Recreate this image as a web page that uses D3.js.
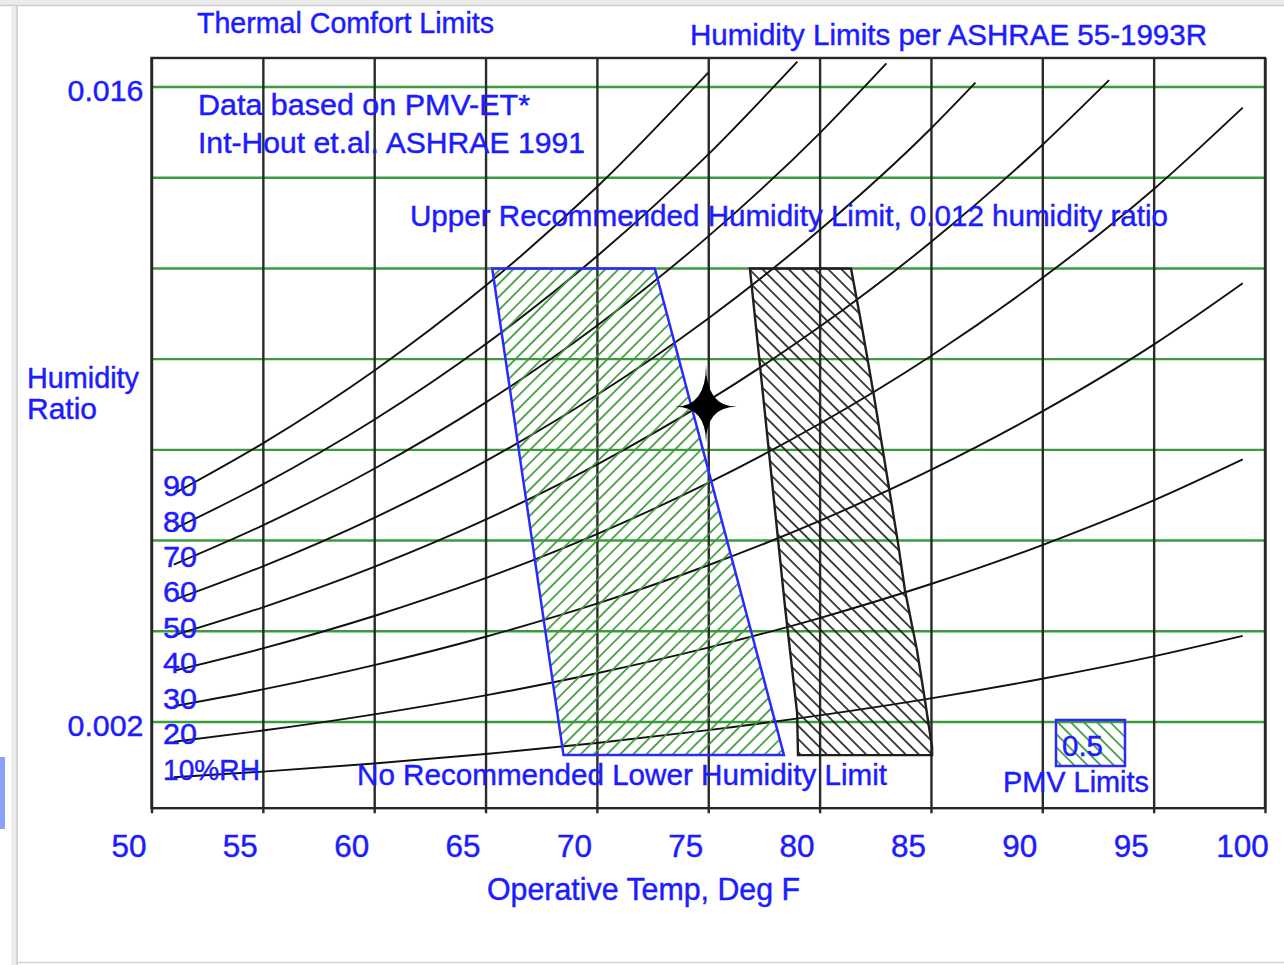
<!DOCTYPE html>
<html><head><meta charset="utf-8">
<script src="https://cdn.jsdelivr.net/npm/d3@7"></script>
<style>
html,body{margin:0;padding:0;background:#fff;}
svg{display:block;}
text{font-family:"Liberation Sans",Arial,sans-serif;fill:#1c1cff;stroke:#1c1cff;stroke-width:0.45px;}
</style></head><body>
<svg id="chart" width="1284" height="965"></svg>
<script>
// ---------- data ----------
const xTickValues = [50,55,60,65,70,75,80,85,90,95,100];
const yGridValues = [0.002,0.004,0.006,0.008,0.010,0.012,0.014,0.016];
const yLabelValues = [0.002,0.016];
const rhLabels = ["10%RH","20","30","40","50","60","70","80","90"];

const tFull = [51,55,60,65,70,75,80,85,90,95,99];
const wRH10 = [0.000782,0.000906,0.001085,0.001294,0.001537,0.001820,0.002147,0.002522,0.002953,0.003446,0.003898];
const wRH20 = [0.001565,0.001812,0.002169,0.002587,0.003074,0.003639,0.004292,0.005042,0.005902,0.006886,0.007790];
const wRH30 = [0.002347,0.002718,0.003253,0.003880,0.004609,0.005456,0.006434,0.007558,0.008847,0.010320,0.011673];
const wRH40 = [0.003129,0.003623,0.004337,0.005171,0.006143,0.007271,0.008575,0.010071,0.011787,0.013747,0.015546];
const tRH50 = [51,55,60,65,70,75,80,85,90,93];
const wRH50 = [0.003910,0.004528,0.005419,0.006462,0.007676,0.009085,0.010712,0.012581,0.014721,0.016150];
const tRH60 = [51,55,60,65,70,75,80,85,87];
const wRH60 = [0.004691,0.005432,0.006502,0.007752,0.009208,0.010897,0.012847,0.015086,0.016097];
const tRH70 = [51,55,60,65,70,75,80,83];
const wRH70 = [0.005472,0.006336,0.007583,0.009041,0.010738,0.012706,0.014979,0.016520];
const tRH80 = [51,55,60,65,70,75,79];
const wRH80 = [0.006253,0.007239,0.008664,0.010329,0.012267,0.014514,0.016560];
const tRH90 = [51,55,60,65,70,75];
const wRH90 = [0.007033,0.008143,0.009745,0.011616,0.013795,0.016319];

// PMV comfort zones (winter: green hatch, summer: black hatch)
const zoneWinterT = [65.3,72.6,78.4,68.5];
const zoneWinterW = [0.012,0.012,0.00127,0.00127];
const zoneSummerT = [76.87,81.41,81.90,82.44,83.11,83.52,83.83,84.37,84.73,85.05,85.05,79.03,78.99,78.45];
const zoneSummerW = [0.012,0.012,0.01071,0.00919,0.00718,0.00595,0.00491,0.00359,0.00248,0.00145,0.00127,0.00127,0.0022,0.00453];

const markerT = [74.9];
const markerW = [0.00895];
const plotExtentW = [0.0001,0.01664];

// ---------- setup ----------
const svg = d3.select("#chart");
const x = d3.scaleLinear().domain([50,100]).range([151.5,1265]);
const y = d3.scaleLinear().domain([0.002,0.016]).range([722,87]);
const plotTop = y(plotExtentW[1]), plotBottom = y(plotExtentW[0]);
const plotLeft = x(50), plotRight = x(100);

// window chrome
svg.append("rect").attr("x",0).attr("y",0).attr("width",1284).attr("height",965).attr("fill","#fff");
svg.append("rect").attr("x",0).attr("y",0).attr("width",1284).attr("height",6).attr("fill","#ececec");
svg.append("line").attr("x1",0).attr("x2",1284).attr("y1",5.5).attr("y2",5.5).attr("stroke","#cfcfcf").attr("stroke-width",1.5);
svg.append("rect").attr("x",11).attr("y",6).attr("width",7).attr("height",959).attr("fill","#ececec");
svg.append("line").attr("x1",17).attr("x2",17).attr("y1",6).attr("y2",965).attr("stroke","#cfcfcf").attr("stroke-width",1.5);
svg.append("line").attr("x1",17).attr("x2",1284).attr("y1",962.5).attr("y2",962.5).attr("stroke","#d4d4d4").attr("stroke-width",1.5);
svg.append("rect").attr("x",0).attr("y",757).attr("width",5).attr("height",72).attr("fill","#8aa2ff");

// defs: hatch patterns
const defs = svg.append("defs");
function hatch(id, color, angle, spacing, width){
  const p = defs.append("pattern").attr("id",id).attr("patternUnits","userSpaceOnUse")
    .attr("width",spacing).attr("height",spacing).attr("patternTransform",`rotate(${angle})`);
  p.append("line").attr("x1",spacing/2).attr("y1",-1).attr("x2",spacing/2).attr("y2",spacing+1)
    .attr("stroke",color).attr("stroke-width",width);
}
hatch("hatchGreen","#3a9a3a",45,9.3,1.7);
hatch("hatchBlack","#1a1a1a",-45,9.3,1.6);
hatch("hatchGreenBack","#3a9a3a",-45,9.3,1.7);

// green horizontal grid lines
svg.append("g").selectAll("line").data(yGridValues).join("line")
  .attr("x1",plotLeft).attr("x2",plotRight).attr("y1",d=>y(d)).attr("y2",d=>y(d))
  .attr("stroke","#3c9c3c").attr("stroke-width",2.4);

// bottom axis with vertical grid lines
const xAxis = svg.append("g").attr("transform",`translate(0,${plotBottom})`)
  .call(d3.axisBottom(x).tickValues(xTickValues).tickSize(5).tickSizeOuter(0).tickFormat(d3.format("d")));
xAxis.select(".domain").remove();
xAxis.selectAll(".tick line").attr("y1",plotTop-plotBottom).attr("y2",5).attr("stroke","#2a2a2a").attr("stroke-width",2.4);
xAxis.selectAll(".tick text").attr("x",-23).attr("y",49).attr("dy",0)
  .attr("font-size",31).attr("fill","#1c1cff").attr("font-family","Liberation Sans, Arial, sans-serif")
  .attr("textLength",d=>String(d).length*17.5).attr("lengthAdjust","spacingAndGlyphs");

// frame
svg.append("rect").attr("x",plotLeft).attr("y",plotTop).attr("width",plotRight-plotLeft).attr("height",plotBottom-plotTop)
  .attr("fill","none").attr("stroke","#262626").attr("stroke-width",2.4);

// left axis labels
const yAxis = svg.append("g").attr("transform",`translate(${plotLeft},0)`)
  .call(d3.axisLeft(y).tickValues(yLabelValues).tickSize(0).tickPadding(8).tickFormat(d3.format(".3f")));
yAxis.select(".domain").remove();
yAxis.selectAll(".tick text").attr("dy",13).attr("font-size",29).attr("fill","#1c1cff")
  .attr("font-family","Liberation Sans, Arial, sans-serif")
  .attr("textLength",76).attr("lengthAdjust","spacingAndGlyphs");

// RH curves
const curves = [
  {t:tFull,w:wRH10},{t:tFull,w:wRH20},{t:tFull,w:wRH30},{t:tFull,w:wRH40},
  {t:tRH50,w:wRH50},{t:tRH60,w:wRH60},{t:tRH70,w:wRH70},{t:tRH80,w:wRH80},{t:tRH90,w:wRH90}
];
const line = d3.line().x(d=>x(d[0])).y(d=>y(d[1])).curve(d3.curveMonotoneX);
svg.append("g").selectAll("path").data(curves).join("path")
  .attr("d",c=>line(c.t.map((t,i)=>[t,c.w[i]])))
  .attr("fill","none").attr("stroke","#111").attr("stroke-width",1.9);

// RH labels
svg.append("g").selectAll("text").data(curves).join("text")
  .attr("x",163).attr("y",(c)=>y(c.w[0])+2.5)
  .attr("font-size",29)
  .attr("textLength",(c,i)=>i===0?97:34).attr("lengthAdjust","spacingAndGlyphs")
  .text((c,i)=>rhLabels[i]);

// zones
const poly = d3.line().x(d=>x(d[0])).y(d=>y(d[1]));
const winterPts = zoneWinterT.map((t,i)=>[t,zoneWinterW[i]]);
const summerPts = zoneSummerT.map((t,i)=>[t,zoneSummerW[i]]);
svg.append("path").attr("d",poly(winterPts)+"Z").attr("fill","url(#hatchGreen)")
  .attr("stroke","#2a2aff").attr("stroke-width",2.5).attr("stroke-linejoin","miter");
svg.append("path").attr("d",poly(summerPts)+"Z").attr("fill","url(#hatchBlack)")
  .attr("stroke","#1e1e1e").attr("stroke-width",2.4);

// marker star
svg.append("g").selectAll("path").data(markerT).join("path")
  .attr("transform",(d,i)=>`translate(${x(d)},${y(markerW[i])})`)
  .attr("d","M0,-42 Q0,0 31,0 Q0,0 0,36 Q0,0 -31,0 Q0,0 0,-42 Z")
  .attr("fill","#000");

// texts
function txt(s,xx,yy,len,size){
  svg.append("text").attr("x",xx).attr("y",yy).attr("font-size",size||29)
    .attr("textLength",len).attr("lengthAdjust","spacingAndGlyphs").text(s);
}
txt("Thermal Comfort Limits",197,33,297);
txt("Humidity Limits per ASHRAE 55-1993R",690,45,517);
txt("Data based on PMV-ET*",198,115,332);
txt("Int-Hout et.al. ASHRAE 1991",198,153,387);
txt("Upper Recommended Humidity Limit, 0.012 humidity ratio",410,226,758);
txt("Humidity",27,388,112);
txt("Ratio",27,419,70);
txt("No Recommended Lower Humidity Limit",357,785,530);
txt("PMV Limits",1003,792,146);
txt("Operative Temp, Deg F",487,900,313,31);

// PMV legend box
svg.append("rect").attr("x",1056).attr("y",720).attr("width",69).attr("height",46)
  .attr("fill","url(#hatchGreenBack)").attr("stroke","#2a2aff").attr("stroke-width",2.5);
txt("0.5",1062,756,41);
</script>
</body></html>
